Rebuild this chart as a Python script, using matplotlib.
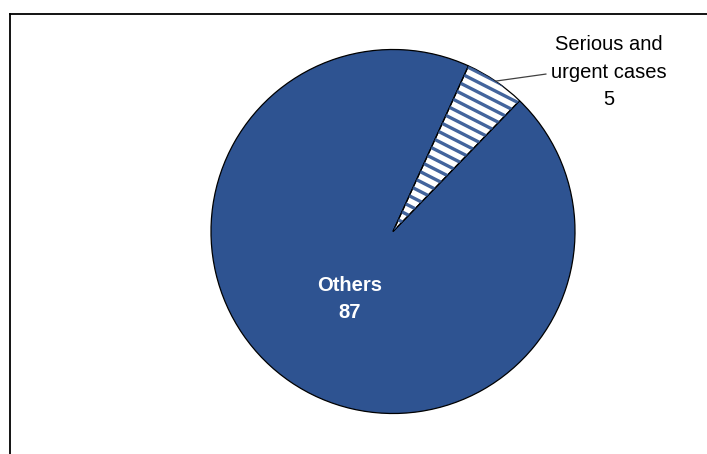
import numpy as np
import matplotlib
matplotlib.use("Agg")
import matplotlib.pyplot as plt
from matplotlib.lines import Line2D

labels = ["Serious and\nurgent cases", "Others"]
values = [5, 87]

blue = "#2E5391"
plt.rcParams["font.family"] = ["Liberation Sans", "DejaVu Sans"]

fig = plt.figure(figsize=(7.07, 4.54), dpi=100)
ax = fig.add_axes([211/707, 40.5/454, 364/707, 364/454])
ax.set_aspect("equal")
ax.axis("off")

wedges, _ = ax.pie(values, startangle=65.5, counterclock=False, radius=1,
                   colors=["white", blue],
                   wedgeprops=dict(linewidth=0))

# slanted stripe fill for the small slice, clipped to its wedge
ang = np.deg2rad(27)
slope = -np.tan(ang)
step = 0.0485 / np.cos(ang)
xs = np.array([-1.2, 1.2])
for c in np.arange(-1.5, 2.5, step):
    ln, = ax.plot(xs, slope * xs + c, color=blue, linewidth=2.4,
                  solid_capstyle="butt", alpha=0.9)
    ln.set_clip_path(wedges[0])

# outlines
outl, _ = ax.pie(values, startangle=65.5, counterclock=False, radius=1,
                 wedgeprops=dict(fill=False, edgecolor="black", linewidth=0.9))
ax.set_xlim(-1, 1)
ax.set_ylim(-1, 1)

# leader line + label for small slice
w = wedges[0]
mid = np.deg2rad((w.theta1 + w.theta2) / 2)
ax.add_line(Line2D([np.cos(mid), 0.84], [np.sin(mid), 0.865],
                   color="#404040", linewidth=0.9, clip_on=False))
ax.text(1.185, 0.875, f"{labels[0]}\n{values[0]}", ha="center", va="center",
        fontsize=14.5, color="black", linespacing=1.58, clip_on=False)

ax.text(-0.239, -0.371, f"{labels[1]}\n{values[1]}", ha="center", va="center",
        fontsize=14.5, fontweight="bold", color="white", linespacing=1.58)

# frame lines
fig.add_artist(Line2D([9.5/707, 9.5/707], [0, 1 - 14/454], color="black",
                      linewidth=1.3, transform=fig.transFigure))
fig.add_artist(Line2D([9.5/707, 1], [1 - 14/454, 1 - 14/454], color="black",
                      linewidth=1.3, transform=fig.transFigure))

fig.savefig("out.png", dpi=100)
